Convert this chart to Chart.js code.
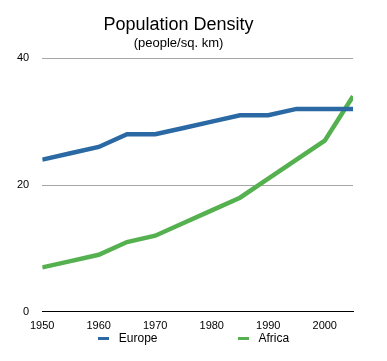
<!DOCTYPE html>
<html>
<head>
<meta charset="utf-8">
<script src="https://cdn.jsdelivr.net/npm/chart.js@4/dist/chart.umd.min.js"></script>
<style>
  body { margin: 0; background: #fff; font-family: 'Liberation Sans', Arial, sans-serif; }
  #wrap { position: relative; width: 387px; height: 361px; }
  #legend { position: absolute; left: 0; right: 0; top: 331px; display: flex; justify-content: center; gap: 80px; font-size: 12px; line-height: 14px; }
  #legend .item { display: flex; align-items: center; }
  #legend .swatch { width: 11px; height: 3px; margin-right: 10px; }
</style>
</head>
<body>
<div id="wrap">
  <canvas id="densityChart"></canvas>
  <div id="legend"></div>
</div>
<script>
// years (x values)
var years = [1950, 1955, 1960, 1965, 1970, 1975, 1980, 1985, 1990, 1995, 2000, 2005];
// people per sq. km
var europe = [24, 25, 26, 28, 28, 29, 30, 31, 31, 32, 32, 32];
var africa = [7, 8, 9, 11, 12, 14, 16, 18, 21, 24, 27, 34];
var seriesNames = ["Europe", "Africa"];
var seriesColors = ["#2a69a4", "#55b04f"];
var xTicks = [1950, 1960, 1970, 1980, 1990, 2000];
var yTicks = [0, 20, 40];

function toPoints(vals) {
    return years.map(function (y, i) { return { x: y, y: vals[i] }; });
}

Chart.defaults.font.family = "'Liberation Sans', Arial, sans-serif";
Chart.defaults.color = "#000";

var ctx = document.getElementById('densityChart').getContext('2d');
var densityChart = new Chart(ctx, {
    type: 'line',
    data: {
        datasets: [europe, africa].map(function (vals, i) {
            return {
                label: seriesNames[i],
                data: toPoints(vals),
                borderColor: seriesColors[i],
                backgroundColor: seriesColors[i],
                borderWidth: 4.5,
                pointRadius: 0,
                tension: 0
            };
        })
    },
    options: {
        responsive: true,
        maintainAspectRatio: false,
        animation: false,
        layout: { padding: { left: 4, right: 34, top: 8, bottom: 28 } },
        plugins: {
            title: {
                display: true,
                text: "Population Density",
                font: { size: 18, weight: 'normal' },
                padding: { top: 6, bottom: 0 }
            },
            subtitle: {
                display: true,
                text: "(people/sq. km)",
                font: { size: 13 },
                padding: { top: 0, bottom: 7 }
            },
            legend: { display: false },
            tooltip: { enabled: false }
        },
        scales: {
            x: {
                type: 'linear',
                min: years[0],
                max: years[years.length - 1],
                afterBuildTicks: function (axis) {
                    axis.ticks = xTicks.map(function (v) { return { value: v }; });
                },
                grid: { display: false },
                border: { color: "#000", width: 1 },
                ticks: {
                    maxRotation: 0,
                    autoSkip: false,
                    padding: 0,
                    font: { size: 11 },
                    callback: function (v) { return String(v); }
                }
            },
            y: {
                min: yTicks[0],
                max: yTicks[yTicks.length - 1],
                afterBuildTicks: function (axis) {
                    axis.ticks = yTicks.map(function (v) { return { value: v }; });
                },
                border: { display: false },
                grid: {
                    drawTicks: false,
                    color: function (c) { return c.tick.value === 0 ? "#000" : "#a6a6a6"; }
                },
                ticks: { padding: 13, font: { size: 11 } }
            }
        }
    }
});

// legend built from the dataset names/colours
var legendEl = document.getElementById('legend');
densityChart.data.datasets.forEach(function (ds) {
    var item = document.createElement('div');
    item.className = 'item';
    var sw = document.createElement('span');
    sw.className = 'swatch';
    sw.style.background = ds.borderColor;
    var txt = document.createElement('span');
    txt.textContent = ds.label;
    item.appendChild(sw);
    item.appendChild(txt);
    legendEl.appendChild(item);
});
</script>
</body>
</html>
